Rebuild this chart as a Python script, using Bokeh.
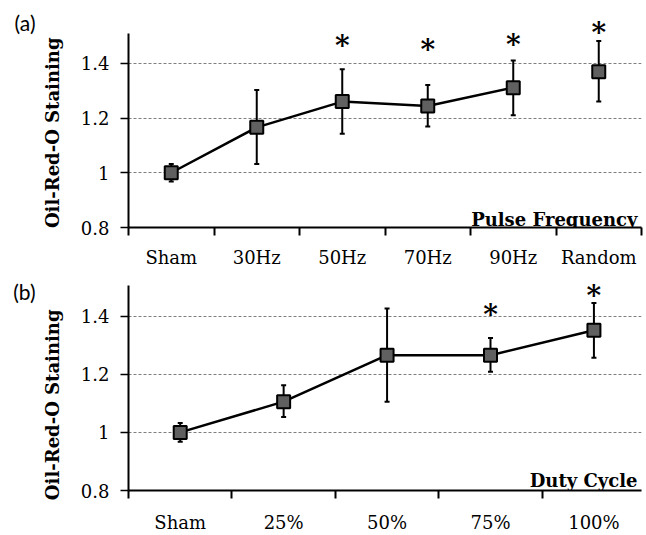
from bokeh.plotting import figure
from bokeh.layouts import column
from bokeh.models import (ColumnDataSource, Range1d, FixedTicker, Whisker, TeeHead, Label,
                          LinearAxis)
from bokeh.core.properties import value
from bokeh.embed import file_html
from bokeh.resources import INLINE

# ---- data: (a) pulse frequency ----
pf_categories = ["Sham", "30Hz", "50Hz", "70Hz", "90Hz", "Random"]
pf_values = [1.000, 1.166, 1.260, 1.244, 1.311, 1.369]
pf_upper = [1.032, 1.302, 1.378, 1.321, 1.410, 1.481]
pf_lower = [0.968, 1.032, 1.143, 1.169, 1.210, 1.260]
pf_star_cats = ["50Hz", "70Hz", "90Hz", "Random"]
pf_star_y = [1.488, 1.474, 1.492, 1.535]
pf_connected = 5  # first five points joined by the line

# ---- data: (b) duty cycle ----
dc_categories = ["Sham", "25%", "50%", "75%", "100%"]
dc_values = [1.000, 1.106, 1.266, 1.266, 1.352]
dc_upper = [1.032, 1.162, 1.427, 1.325, 1.446]
dc_lower = [0.968, 1.053, 1.106, 1.209, 1.257]
dc_star_cats = ["75%", "100%"]
dc_star_y = [1.425, 1.492]
dc_connected = 5

y_ticks = [0.8, 1.0, 1.2, 1.4]
y_tick_labels = ["0.8", "1", "1.2", "1.4"]
grid_ticks = [1.0, 1.2, 1.4]
y_title = "Oil-Red-O Staining"

SERIF = "DejaVu Serif"


def hidden_axis(pos, text, **kw):
    return LinearAxis(ticker=FixedTicker(ticks=[pos], minor_ticks=[]),
                      major_label_overrides={pos: text},
                      axis_line_color=None, major_tick_line_color=None,
                      minor_tick_line_color=None, major_tick_out=0, major_tick_in=0,
                      major_label_text_color="black", **kw)


def make_panel(categories, values, upper, lower, star_cats, star_y, connected,
               tag, tag_y, title_y, name, height, b_top, b_bottom, b_left, b_right,
               x_end, y_end, axis_top, name_x, name_y, x_standoff):
    n = len(categories)
    centers = [i + 0.5 for i in range(n)]
    bounds = [float(i) for i in range(n + 1)]
    p = figure(width=646, height=height, output_backend="svg", toolbar_location=None,
               x_range=Range1d(0, x_end), y_range=Range1d(0.8, y_end),
               min_border_left=b_left, min_border_right=b_right,
               min_border_top=b_top, min_border_bottom=b_bottom)
    p.outline_line_color = None
    p.background_fill_color = "white"
    p.border_fill_color = "white"

    # grid
    p.xgrid.visible = False
    p.ygrid.ticker = FixedTicker(ticks=grid_ticks)
    p.ygrid.grid_line_color = "#7f7f7f"
    p.ygrid.grid_line_dash = "3 2"
    p.ygrid.grid_line_width = 1

    # x axis: labels at category centres, tick marks at category boundaries
    xa = p.xaxis[0]
    xa.ticker = FixedTicker(ticks=centers, minor_ticks=bounds)
    xa.major_label_overrides = {c: lab for c, lab in zip(centers, categories)}
    xa.major_tick_line_color = None
    xa.major_tick_out = 8
    xa.major_tick_in = 0
    xa.minor_tick_out = 8
    xa.minor_tick_in = 0
    xa.minor_tick_line_width = 2
    xa.minor_tick_line_color = "black"
    xa.axis_line_width = 2
    xa.axis_line_color = "black"
    xa.major_label_standoff = x_standoff
    xa.major_label_text_font = SERIF
    xa.major_label_text_font_size = "18px"
    xa.major_label_text_color = "black"

    # y axis
    ya = p.yaxis[0]
    ya.ticker = FixedTicker(ticks=y_ticks, minor_ticks=[])
    ya.major_label_overrides = {t: lab for t, lab in zip(y_ticks, y_tick_labels)}
    ya.bounds = (0.8, axis_top)
    ya.major_tick_out = 8
    ya.major_tick_in = 0
    ya.major_tick_line_width = 1.5
    ya.major_tick_line_color = "black"
    ya.axis_line_width = 2
    ya.axis_line_color = "black"
    ya.major_label_standoff = 11
    ya.major_label_text_font = SERIF
    ya.major_label_text_font_size = "18px"
    ya.major_label_text_color = "black"

    # rotated y title, placed like the original (centred on the drawn axis)
    p.add_layout(hidden_axis(title_y, y_title, major_label_orientation="vertical",
                             major_label_standoff=14, major_label_text_font=SERIF,
                             major_label_text_font_style="bold",
                             major_label_text_font_size="18px"), "left")
    # panel tag "(a)"/"(b)"
    p.add_layout(hidden_axis(tag_y, tag, major_label_standoff=4,
                             major_label_text_font="Lato",
                             major_label_text_font_size="21px"), "left")

    src = ColumnDataSource(dict(x=centers, y=values, upper=upper, lower=lower))
    line_src = ColumnDataSource(dict(x=centers[:connected], y=values[:connected]))
    star_src = ColumnDataSource(dict(
        x=[centers[categories.index(c)] for c in star_cats], y=star_y,
        t=["*"] * len(star_cats)))

    p.add_layout(Whisker(source=src, base="x", upper="upper", lower="lower",
                         line_width=2, line_color="black",
                         upper_head=TeeHead(size=5, line_width=2, line_color="black"),
                         lower_head=TeeHead(size=5, line_width=2, line_color="black")))
    p.line("x", "y", source=line_src, line_width=2.5, line_color="black")
    p.scatter("x", "y", source=src, marker="square", size=13,
              fill_color="#606060", line_color="black", line_width=2)
    p.text("x", "y", text="t", source=star_src, text_font=value(SERIF),
           text_font_style="bold", text_font_size="28px", text_align="center",
           text_baseline="middle", y_offset=6, text_color="black")

    p.add_layout(Label(x=name_x, y=name_y, x_units="screen", y_units="screen", text=name,
                       text_font=SERIF, text_font_style="bold", text_font_size="18px",
                       text_baseline="alphabetic", text_align="right",
                       text_color="black"))
    return p


p1 = make_panel(pf_categories, pf_values, pf_upper, pf_lower, pf_star_cats, pf_star_y,
                pf_connected, "(a)", 1.549, 1.146, "Pulse Frequency", 270, 19, 40, 127,
                5, 6.0, 1.56, 1.51, 509, 8, 11)
p2 = make_panel(dc_categories, dc_values, dc_upper, dc_lower, dc_star_cats, dc_star_y,
                dc_connected, "(b)", 1.485, 1.095, "Duty Cycle", 265, 8, 40, 128, 0,
                4.96, 1.53, 1.507, 509, 10, 13)

layout = column(p1, p2, spacing=0)
open("out.html", "w").write(file_html(layout, INLINE))
